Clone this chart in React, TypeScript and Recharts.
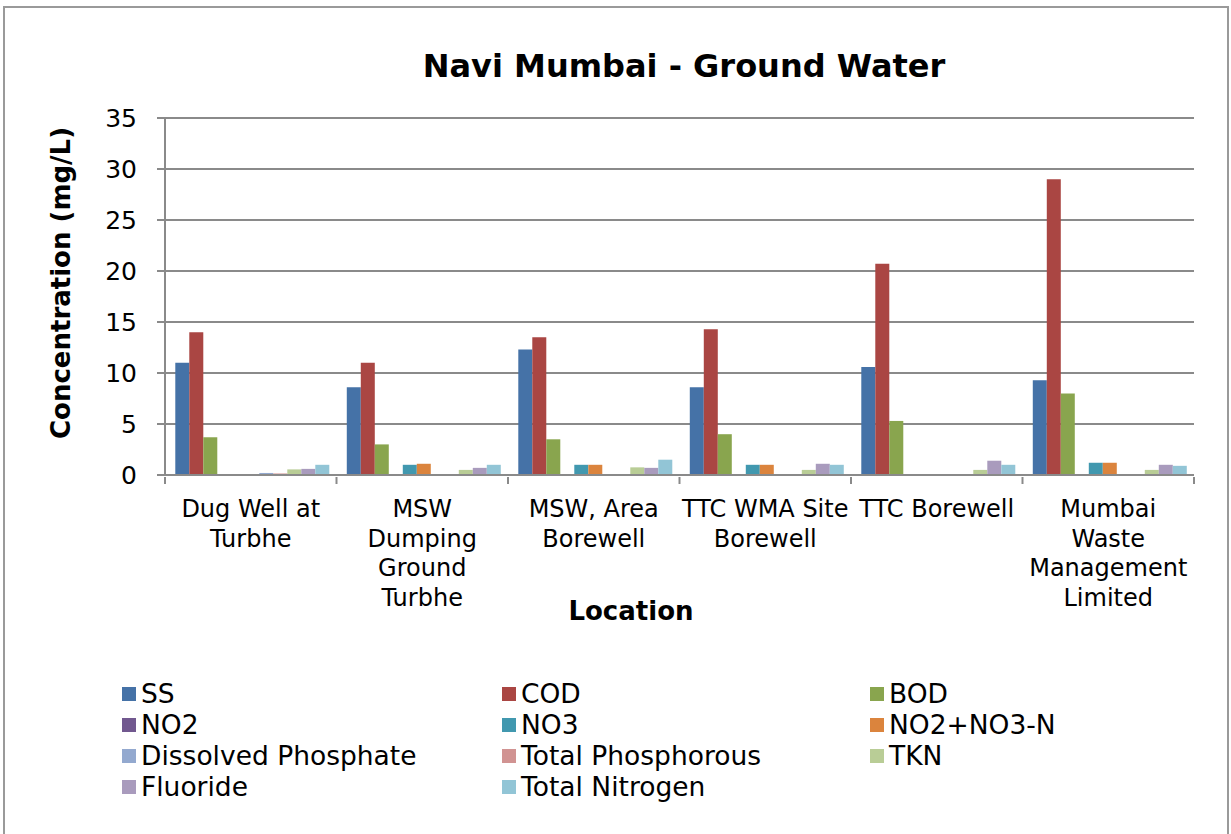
import React from "react";
import { Bar, BarChart, CartesianGrid, XAxis, YAxis } from "recharts";

// Sampling locations (line breaks follow the wrapped axis labels)
const categories = [
  "Dug Well at\nTurbhe",
  "MSW\nDumping\nGround\nTurbhe",
  "MSW, Area\nBorewell",
  "TTC WMA Site\nBorewell",
  "TTC Borewell",
  "Mumbai\nWaste\nManagement\nLimited",
];

// Concentrations in mg/L, one value per location
const ss = [11.0, 8.6, 12.3, 8.6, 10.6, 9.3];
const cod = [14.0, 11.0, 13.5, 14.3, 20.7, 29.0];
const bod = [3.7, 3.0, 3.5, 4.0, 5.3, 8.0];
const no2 = [0, 0, 0, 0, 0, 0];
const no3 = [0, 1.0, 1.0, 1.0, 0, 1.2];
const no2no3n = [0, 1.1, 1.0, 1.0, 0, 1.2];
const dissolvedPhosphate = [0.2, 0, 0.05, 0.02, 0.05, 0];
const totalPhosphorous = [0.15, 0.1, 0.05, 0.05, 0.1, 0.05];
const tkn = [0.55, 0.5, 0.75, 0.5, 0.5, 0.5];
const fluoride = [0.6, 0.7, 0.7, 1.1, 1.4, 1.0];
const totalNitrogen = [1.0, 1.0, 1.5, 1.0, 1.0, 0.9];

const yTicks = [0, 5, 10, 15, 20, 25, 30, 35];

const series = [
  { key: "ss", label: "SS", color: "#4572A7", values: ss },
  { key: "cod", label: "COD", color: "#AA4643", values: cod },
  { key: "bod", label: "BOD", color: "#89A54E", values: bod },
  { key: "no2", label: "NO2", color: "#71588F", values: no2 },
  { key: "no3", label: "NO3", color: "#4198AF", values: no3 },
  { key: "no2no3n", label: "NO2+NO3-N", color: "#DB843D", values: no2no3n },
  { key: "dp", label: "Dissolved Phosphate", color: "#93A9CF", values: dissolvedPhosphate },
  { key: "tp", label: "Total Phosphorous", color: "#D19392", values: totalPhosphorous },
  { key: "tkn", label: "TKN", color: "#B9CD96", values: tkn },
  { key: "fl", label: "Fluoride", color: "#A99BBD", values: fluoride },
  { key: "tn", label: "Total Nitrogen", color: "#92C5D6", values: totalNitrogen },
];

const data = categories.map((name, i) => {
  const row: Record<string, string | number> = { name };
  series.forEach((s) => (row[s.key] = s.values[i]));
  return row;
});

const W = 1231;
const H = 834;
const FONT = "'DejaVu Sans', Verdana, sans-serif";
const AXIS_GRAY = "#8a8a8a";
const PLOT_LEFT = 165;
const PLOT_RIGHT = 1194;
const BAND = (PLOT_RIGHT - PLOT_LEFT) / categories.length;

// Category label with explicit line breaks plus tick marks on the band edges
function CategoryTick(props: any) {
  const { x, y, payload, index } = props;
  const lines = String(payload.value).split("\n");
  const left = x - BAND / 2;
  return (
    <g>
      <line x1={left} y1={y - 9} x2={left} y2={y - 2} stroke={AXIS_GRAY} strokeWidth={2} />
      {index === categories.length - 1 && (
        <line x1={x + BAND / 2} y1={y - 9} x2={x + BAND / 2} y2={y - 2} stroke={AXIS_GRAY} strokeWidth={2} />
      )}
      <text x={x} y={y + 31} textAnchor="middle" fontSize={24} fontFamily={FONT} fill="#000">
        {lines.map((l, i) => (
          <tspan key={i} x={x} dy={i === 0 ? 0 : 29.5}>
            {l}
          </tspan>
        ))}
      </text>
    </g>
  );
}

// Three-column legend, filled row by row in series order
function LegendGrid() {
  return (
    <div
      style={{
        position: "absolute",
        left: 122,
        top: 678,
        display: "grid",
        gridTemplateColumns: "380px 368px 300px",
        fontFamily: FONT,
        fontSize: 26.5,
        lineHeight: "31px",
        color: "#000",
      }}
    >
      {series.map((s) => (
        <div key={s.key} style={{ display: "flex", alignItems: "center", whiteSpace: "nowrap" }}>
          <span style={{ width: 14, height: 14, background: s.color, marginRight: 5, flex: "none" }} />
          <span>{s.label}</span>
        </div>
      ))}
    </div>
  );
}

export default function App() {
  return (
    <div style={{ position: "fixed", left: 0, top: 0, width: W, height: H, background: "#fff", overflow: "hidden" }}>
      <div
        style={{
          position: "absolute",
          left: 3,
          top: 6,
          width: W - 5,
          height: H + 10,
          border: "2px solid #9a9a9a",
          boxSizing: "border-box",
        }}
      />
      <BarChart
        width={W}
        height={H}
        data={data}
        margin={{ top: 118, right: W - PLOT_RIGHT, bottom: 209, left: 0 }}
        barCategoryGap="6%"
        barGap={0}
        style={{ position: "absolute", left: 0, top: 0 }}
      >
        <CartesianGrid vertical={false} stroke={AXIS_GRAY} strokeWidth={2} />
        <XAxis
          dataKey="name"
          interval={0}
          height={150}
          tickLine={false}
          tickSize={9}
          tickMargin={2}
          axisLine={{ stroke: AXIS_GRAY, strokeWidth: 2 }}
          tick={<CategoryTick />}
        />
        <YAxis
          width={PLOT_LEFT}
          domain={[0, 35]}
          ticks={yTicks}
          interval={0}
          tickSize={8}
          tickMargin={20}
          tickLine={{ stroke: AXIS_GRAY, strokeWidth: 2 }}
          axisLine={{ stroke: AXIS_GRAY, strokeWidth: 2 }}
          tick={{ fontSize: 25, fontFamily: FONT, fill: "#000" }}
        />
        {series.map((s) => (
          <Bar key={s.key} dataKey={s.key} name={s.label} fill={s.color} isAnimationActive={false} />
        ))}
      </BarChart>
      <LegendGrid />
      <svg width={W} height={H} style={{ position: "absolute", left: 0, top: 0, pointerEvents: "none" }}>
        <text x={684} y={77} textAnchor="middle" fontFamily={FONT} fontSize={32} fontWeight="bold">
          Navi Mumbai - Ground Water
        </text>
        <text
          x={0}
          y={0}
          transform="translate(70 283) rotate(-90)"
          textAnchor="middle"
          fontFamily={FONT}
          fontSize={26}
          fontWeight="bold"
        >
          Concentration (mg/L)
        </text>
        <text x={631} y={620} textAnchor="middle" fontFamily={FONT} fontSize={26} fontWeight="bold">
          Location
        </text>
      </svg>
    </div>
  );
}
